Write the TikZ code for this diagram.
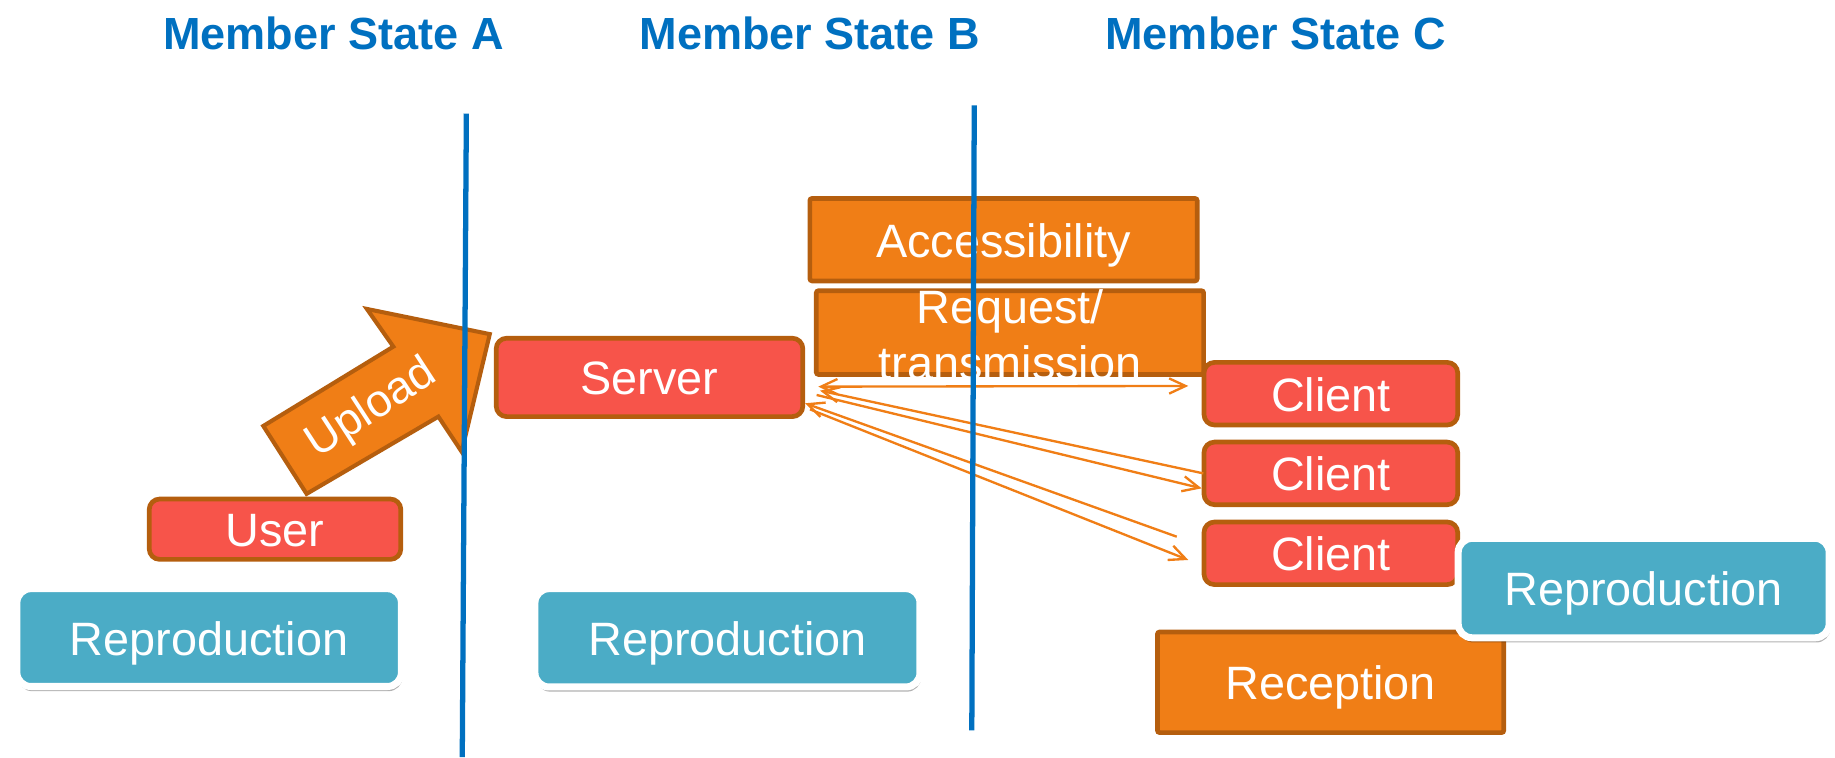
\documentclass[tikz,border=0pt]{standalone}
\usepackage{fontspec}
\setmainfont{Liberation Sans}
\usetikzlibrary{arrows.meta,shadows}
\definecolor{tblue}{RGB}{0,112,192}
\definecolor{orfill}{RGB}{240,126,22}
\definecolor{brbord}{RGB}{181,94,14}
\definecolor{redfill}{RGB}{247,84,74}
\definecolor{cyanfill}{RGB}{75,172,198}
\begin{document}
\begin{tikzpicture}[x=1pt,y=-1pt,
  lbl/.style={text=white, font=\fontsize{40}{48}\selectfont, inner sep=0pt, text height=38pt, text depth=8pt},
  obox/.style={lbl, draw=brbord, fill=orfill, line width=4pt, rounded corners=2pt},
  rbox/.style={lbl, draw=brbord, fill=redfill, line width=4pt, rounded corners=9pt},
  cbox/.style={lbl, draw=white, fill=cyanfill, line width=6pt, rounded corners=12pt,
    drop shadow={shadow xshift=1pt, shadow yshift=-4pt, opacity=0.3, fill=black}},
  titletext/.style={text=tblue, font=\fontsize{38.5}{46}\selectfont\bfseries, anchor=base, inner sep=0pt},
  conn/.style={draw=orfill, line width=2pt},
  barbend/.style={-{Straight Barb[length=14pt,width=13pt]}},
  divider/.style={draw=tblue, line width=4.5pt},
  bigarrow/.style={draw=brbord, fill=orfill, line width=3.5pt, line join=miter}
]
\useasboundingbox (0,0) rectangle (1568,647);

% titles
\node[titletext] (tA) at (285,42) {Member State A};
\node[titletext] (tB) at (692,42) {Member State B};
\node[titletext] (tC) at (1090,42) {Member State C};

% orange boxes
\node[obox, minimum width=331pt, minimum height=70.5pt] (acc) at (857.5,204.8) {Accessibility};
\node[obox, minimum width=331pt, minimum height=71.6pt] (req) at (863,284.2) {};
\node[text=white, font=\fontsize{40}{48}\selectfont, inner sep=0pt, anchor=base, align=center] (reqtext) at (863,324.7) {Request/\\transmission};

% red boxes
\node[rbox, minimum width=262pt, minimum height=67pt] (server) at (555,322.5) {Server};
\node[rbox, minimum width=216.8pt, minimum height=53.5pt] (cl1) at (1137.2,336.4) {Client};
\node[rbox, minimum width=216.8pt, minimum height=53.5pt] (cl2) at (1137.2,404.5) {Client};
\node[rbox, minimum width=216.8pt, minimum height=53.5pt] (cl3) at (1137.2,472.8) {Client};

% connectors
\coordinate (s1) at (699.2,330.4);
\coordinate (e1) at (1015.4,329.8);
\draw[conn, {Straight Barb[length=14pt,width=13pt]}-{Straight Barb[length=14pt,width=13pt]}] (s1) -- (e1);
\coordinate (s2a) at (700.7,333.8);
\coordinate (e2a) at (1028.2,404.5);
\draw[conn, barbend] (e2a) -- (s2a);
\coordinate (s2b) at (697.8,337.5);
\coordinate (e2b) at (1026.8,417.3);
\draw[conn, barbend] (s2b) -- (e2b);
\coordinate (s3a) at (687.9,344.6);
\coordinate (e3a) at (1005.5,458.6);
\draw[conn, barbend] (e3a) -- (s3a);
\coordinate (s3b) at (692.1,349.8);
\coordinate (e3b) at (1015.4,478.5);
\draw[conn, barbend] (s3b) -- (e3b);

% upload arrow
\draw[bigarrow] (225,364) -- (336.1,296.2) -- (313.5,264) -- (418.5,285.5) -- (394.5,386) -- (374.6,356) -- (262,422) -- cycle;
\node[text=white, font=\fontsize{39}{46}\selectfont, inner sep=0pt, rotate=33] (upl) at (318,350) {Upload};

% user and reproductions
\node[rbox, minimum width=215pt, minimum height=51.6pt] (user) at (235,452.2) {User};
\node[cbox, minimum width=328.6pt, minimum height=83.6pt] (repA) at (178.7,544.8) {Reproduction};
\node[cbox, minimum width=329pt, minimum height=84pt] (repB) at (621.6,545) {Reproduction};
\node[obox, minimum width=296pt, minimum height=86pt] (recep) at (1137,583) {Reception};
\node[cbox, minimum width=317pt, minimum height=85pt] (repC) at (1404.5,502.5) {Reproduction};

% dividers
\coordinate (l1t) at (398.5,97);
\coordinate (l1b) at (395,647);
\draw[divider] (l1t) -- (l1b);
\coordinate (l2t) at (832.5,90);
\coordinate (l2b) at (830.4,624);
\draw[divider] (l2t) -- (l2b);
\end{tikzpicture}
\end{document}
